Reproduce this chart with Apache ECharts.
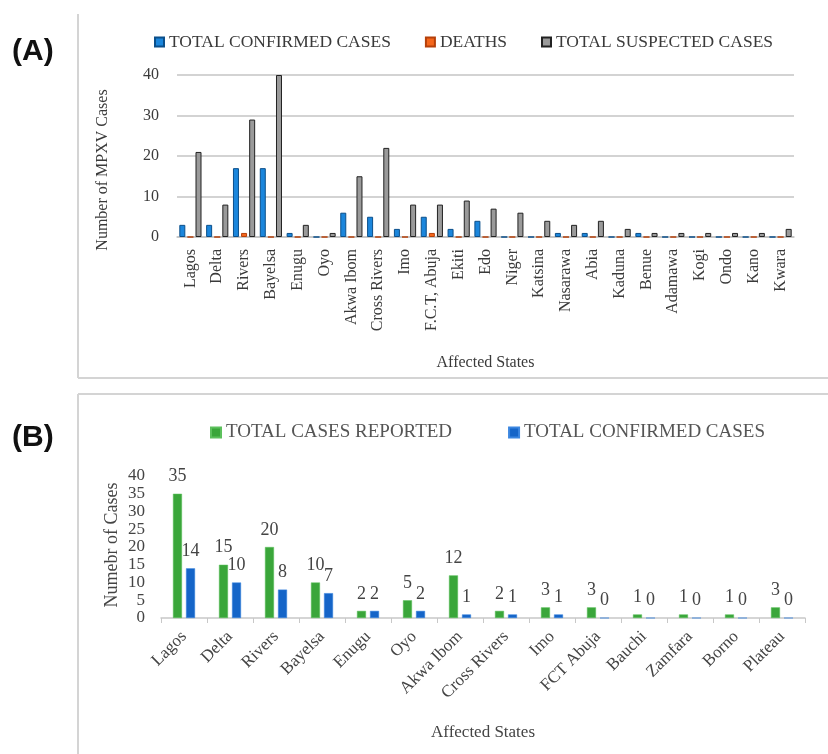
<!DOCTYPE html>
<html>
<head>
<meta charset="utf-8">
<script src="https://cdn.jsdelivr.net/npm/echarts@6/dist/echarts.min.js"></script>
<style>
  html, body { margin: 0; padding: 0; background: #fff; }
  #chart { width: 828px; height: 754px; }
</style>
</head>
<body>
<div id="chart"></div>
<script>
// panel A
const statesA = ["Lagos", "Delta", "Rivers", "Bayelsa", "Enugu", "Oyo", "Akwa Ibom", "Cross Rivers", "Imo",
  "F.C.T, Abuja", "Ekiti", "Edo", "Niger", "Katsina", "Nasarawa", "Abia", "Kaduna", "Benue", "Adamawa",
  "Kogi", "Ondo", "Kano", "Kwara"];
const confirmedA = [3, 3, 17, 17, 1, 0, 6, 5, 2, 5, 2, 4, 0, 0, 1, 1, 0, 1, 0, 0, 0, 0, 0];
const deathsA = [0, 0, 1, 0, 0, 0, 0, 0, 0, 1, 0, 0, 0, 0, 0, 0, 0, 0, 0, 0, 0, 0, 0];
const suspectedA = [21, 8, 29, 40, 3, 1, 15, 22, 8, 8, 9, 7, 6, 4, 3, 4, 2, 1, 1, 1, 1, 1, 2];

// panel B
const statesB = ["Lagos", "Delta", "Rivers", "Bayelsa", "Enugu", "Oyo", "Akwa Ibom", "Cross Rivers", "Imo",
  "FCT Abuja", "Bauchi", "Zamfara", "Borno", "Plateau"];
const reportedB = [35, 15, 20, 10, 2, 5, 12, 2, 3, 3, 1, 1, 1, 3];
const confirmedB = [14, 10, 8, 7, 2, 2, 1, 1, 1, 0, 0, 0, 0, 0];

const serif = "Liberation Serif";
const txt = "#3a3a3a";
const frame = { stroke: "#d4d4d4", lineWidth: 2 };

const chart = echarts.init(document.getElementById("chart"));

chart.setOption({
  animation: false,
  backgroundColor: "#fff",
  graphic: [
    // panel frames
    { type: "line", shape: { x1: 78, y1: 14, x2: 78, y2: 378 }, style: frame },
    { type: "line", shape: { x1: 78, y1: 378, x2: 828, y2: 378 }, style: frame },
    { type: "line", shape: { x1: 78, y1: 394, x2: 828, y2: 394 }, style: frame },
    { type: "line", shape: { x1: 78, y1: 394, x2: 78, y2: 754 }, style: frame },
    { type: "text", left: 12, top: 37, style: { text: "(A)", font: "bold 30px 'Liberation Sans'", fill: "#111" } },
    { type: "text", left: 12, top: 423, style: { text: "(B)", font: "bold 30px 'Liberation Sans'", fill: "#111" } },
    // y axis titles, sitting a bit low like the original
    {
      type: "text", x: 103, y: 170, rotation: Math.PI / 2,
      style: { text: "Number of MPXV Cases", font: "16px '" + serif + "'", fill: txt, align: "center", verticalAlign: "middle" }
    },
    {
      type: "text", x: 112, y: 545, rotation: Math.PI / 2,
      style: { text: "Numebr of Cases", font: "18px '" + serif + "'", fill: "#444", align: "center", verticalAlign: "middle" }
    }
  ],
  legend: [
    {
      left: 149, top: 28, itemWidth: 9, itemHeight: 9, itemGap: 34, icon: "rect",
      data: ["TOTAL CONFIRMED CASES", "DEATHS", "TOTAL SUSPECTED CASES"],
      textStyle: { fontFamily: serif, fontSize: 17.5, color: txt }
    },
    {
      left: 205, top: 418, itemWidth: 10, itemHeight: 10, itemGap: 56, icon: "rect",
      data: ["TOTAL CASES REPORTED", "TOTAL CONFIRMED CASES "],
      textStyle: { fontFamily: serif, fontSize: 19, color: "#555" }
    }
  ],
  grid: [
    { left: 177, right: 34, top: 75, height: 162 },
    { left: 161, right: 23, top: 476, height: 142 }
  ],
  xAxis: [
    {
      type: "category", gridIndex: 0, data: statesA,
      name: "Affected States", nameLocation: "middle", nameGap: 118,
      nameTextStyle: { fontFamily: serif, fontSize: 16, color: txt },
      axisLine: { lineStyle: { color: "#c4c4c4", width: 1.5 } },
      axisTick: { show: false },
      axisLabel: { interval: 0, rotate: 90, margin: 12, fontFamily: serif, fontSize: 16, color: txt }
    },
    {
      type: "category", gridIndex: 1, data: statesB,
      name: "Affected States", nameLocation: "middle", nameGap: 106,
      nameTextStyle: { fontFamily: serif, fontSize: 17, color: "#444" },
      axisLine: { lineStyle: { color: "#c8c8c8", width: 1.5 } },
      axisTick: { show: true, length: 5, lineStyle: { color: "#c8c8c8" } },
      axisLabel: { interval: 0, rotate: 45, margin: 16, fontFamily: serif, fontSize: 17, color: "#444" }
    }
  ],
  yAxis: [
    {
      type: "value", gridIndex: 0, min: 0, max: 40, interval: 10,
      axisLine: { show: false }, axisTick: { show: false },
      axisLabel: { margin: 18, fontFamily: serif, fontSize: 16, color: txt },
      splitLine: { lineStyle: { color: "#c4c4c4", width: 1.5 } }
    },
    {
      type: "value", gridIndex: 1, min: 0, max: 40, interval: 5,
      axisLine: { show: false }, axisTick: { show: false },
      axisLabel: { margin: 16, fontFamily: serif, fontSize: 17, color: "#444" },
      splitLine: { show: false }
    }
  ],
  series: [
    {
      name: "TOTAL CONFIRMED CASES", type: "bar", xAxisIndex: 0, yAxisIndex: 0, data: confirmedA,
      barWidth: 6, barGap: "35%",
      itemStyle: { color: "#1b86dc", borderColor: "#0b4f8a", borderWidth: 1 }
    },
    {
      name: "DEATHS", type: "bar", xAxisIndex: 0, yAxisIndex: 0, data: deathsA,
      barWidth: 6, barGap: "35%",
      itemStyle: { color: "#f5661b", borderColor: "#b5400a", borderWidth: 1 }
    },
    {
      name: "TOTAL SUSPECTED CASES", type: "bar", xAxisIndex: 0, yAxisIndex: 0, data: suspectedA,
      barWidth: 6, barGap: "35%",
      itemStyle: { color: "#9a9a9a", borderColor: "#222", borderWidth: 1 }
    },
    {
      name: "TOTAL CASES REPORTED", type: "bar", xAxisIndex: 1, yAxisIndex: 1, data: reportedB,
      barWidth: 9, barGap: "45%",
      itemStyle: { color: "#3aa63a", borderColor: "#5cc05c", borderWidth: 0.5 },
      label: { show: true, position: "top", distance: 8, fontFamily: serif, fontSize: 18, color: "#444" }
    },
    {
      name: "TOTAL CONFIRMED CASES ", type: "bar", xAxisIndex: 1, yAxisIndex: 1, data: confirmedB,
      barWidth: 9, barGap: "45%",
      itemStyle: { color: "#1565c8", borderColor: "#3b86e0", borderWidth: 0.5 },
      label: { show: true, position: "top", distance: 8, fontFamily: serif, fontSize: 18, color: "#444" }
    }
  ]
});
</script>
</body>
</html>
